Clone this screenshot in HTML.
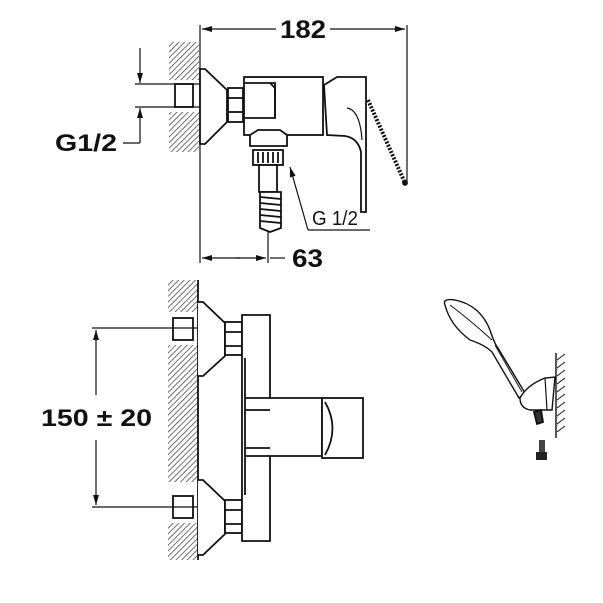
<!DOCTYPE html>
<html><head><style>
html,body{margin:0;padding:0;background:#fff;}
svg{display:block;}
text{font-family:"Liberation Sans",sans-serif;fill:#111;}
</style></head><body>
<svg width="603" height="603" viewBox="0 0 603 603" xmlns="http://www.w3.org/2000/svg">
<defs>
<pattern id="h" width="4" height="4" patternUnits="userSpaceOnUse" patternTransform="rotate(45)">
<line x1="0" y1="0" x2="0" y2="4" stroke="#333" stroke-width="1.4"/>
</pattern>
<marker id="a" viewBox="0 0 10 6" refX="10" refY="3" markerWidth="12" markerHeight="6" orient="auto" markerUnits="userSpaceOnUse">
<path d="M0,0 L10,3 L0,6 Z" fill="#111"/>
</marker>
</defs>
<g stroke="#111" fill="none" stroke-width="1.8">
<!-- TOP VIEW -->
<rect x="169" y="42" width="30" height="38" fill="url(#h)" stroke="none"/>
<rect x="169" y="112" width="30" height="40" fill="url(#h)" stroke="none"/>
<line x1="200" y1="25" x2="200" y2="263" stroke-width="1.2"/>
<line x1="407" y1="25" x2="407" y2="183" stroke-width="1.2"/>
<line x1="268" y1="225" x2="268" y2="263" stroke-width="1.2"/>
<line x1="276" y1="29" x2="202" y2="29" marker-end="url(#a)" stroke-width="1.2"/>
<line x1="330" y1="29" x2="405" y2="29" marker-end="url(#a)" stroke-width="1.2"/>
<line x1="240" y1="258" x2="202" y2="258" marker-end="url(#a)" stroke-width="1.2"/>
<line x1="236" y1="258" x2="266" y2="258" marker-end="url(#a)" stroke-width="1.2"/>
<line x1="270" y1="258" x2="285" y2="258" stroke-width="1.2"/>
<!-- G1/2 dim -->
<line x1="135" y1="84" x2="200" y2="84" stroke-width="1.2"/>
<line x1="135" y1="107" x2="200" y2="107" stroke-width="1.2"/>
<line x1="140" y1="48" x2="140" y2="83" marker-end="url(#a)" stroke-width="1.2"/>
<line x1="140" y1="143" x2="140" y2="108" marker-end="url(#a)" stroke-width="1.2"/>
<line x1="123" y1="143" x2="140" y2="143" stroke-width="1.2"/>
<rect x="175" y="84" width="18" height="23"/>
<path d="M200,69 L205,69 L227,90 L227,122 L205,144 L200,144 Z" fill="#fff"/>
<rect x="228" y="88" width="15" height="34" fill="#fff"/>
<line x1="228" y1="98" x2="243" y2="98"/><line x1="228" y1="112" x2="243" y2="112"/>
<rect x="244" y="77" width="79" height="58" fill="#fff"/>
<path d="M245,83 L275,83 L275,118 L245,118"/>
<path d="M270,83 L275,88 L275,118"/>
<!-- lever -->
<path d="M324,85 L337,77 L366,77 L366,212 L361,212 L361,152 Q358,138 345,136 L327,135 Z" fill="#fff"/>
<path d="M347,108 Q360,110 362,140" stroke-width="1.2"/>
<line x1="368" y1="100" x2="405" y2="183" stroke-width="4" stroke-dasharray="2 1.5"/>
<circle cx="405" cy="183" r="2" fill="#111"/>
<!-- outlet -->
<path d="M250,135 L258,130 L280,130 L287,135 L287,146 L250,146 Z" fill="#fff"/>
<rect x="253" y="150" width="30" height="15" fill="#fff"/>
<line x1="258" y1="152" x2="258" y2="163"/><line x1="263" y1="152" x2="263" y2="163"/><line x1="268" y1="152" x2="268" y2="163"/><line x1="273" y1="152" x2="273" y2="163"/><line x1="278" y1="152" x2="278" y2="163"/>
<rect x="259" y="165" width="18" height="27" fill="#fff"/>
<path d="M260,192 L281,192 L281,228 L270,232 L260,228 Z" fill="#fff"/>
<path d="M260,197 L281,199 M260,203 L281,205 M260,209 L281,211 M260,215 L281,217 M260,221 L281,223" stroke-width="1.8"/>
<line x1="308" y1="230" x2="290" y2="167" marker-end="url(#a)" stroke-width="1.2"/>
<line x1="308" y1="230" x2="370" y2="230" stroke-width="1.2"/>
<!-- BOTTOM VIEW -->
<rect x="168" y="280" width="30" height="32" fill="url(#h)" stroke="none"/>
<rect x="168" y="345" width="30" height="137" fill="url(#h)" stroke="none"/>
<rect x="168" y="523" width="30" height="37" fill="url(#h)" stroke="none"/>
<line x1="198" y1="280" x2="198" y2="560"/>
<rect x="173" y="318" width="20" height="22"/>
<rect x="173" y="496" width="20" height="22"/>
<line x1="92" y1="328" x2="197" y2="328" stroke-width="1.2"/>
<line x1="92" y1="507" x2="197" y2="507" stroke-width="1.2"/>
<line x1="96" y1="395" x2="96" y2="330" marker-end="url(#a)" stroke-width="1.2"/>
<line x1="96" y1="440" x2="96" y2="505" marker-end="url(#a)" stroke-width="1.2"/>
<path d="M198,302 L203,302 L225,323 L225,356 L203,376 L198,376" fill="#fff"/>
<path d="M198,480 L203,480 L225,501 L225,534 L203,555 L198,555" fill="#fff"/>
<rect x="225" y="322" width="17" height="33" fill="#fff"/>
<line x1="225" y1="332" x2="242" y2="332"/><line x1="225" y1="346" x2="242" y2="346"/>
<rect x="225" y="500" width="17" height="33" fill="#fff"/>
<line x1="225" y1="510" x2="242" y2="510"/><line x1="225" y1="524" x2="242" y2="524"/>
<path d="M242,315 L270,315 L270,398 L322,398 L322,456 L270,456 L270,541 L242,541 Z" fill="#fff"/>
<line x1="245" y1="358" x2="245" y2="495"/>
<line x1="245" y1="398" x2="270" y2="398"/><line x1="245" y1="410" x2="270" y2="410"/>
<line x1="245" y1="448" x2="270" y2="448"/><line x1="245" y1="456" x2="270" y2="456"/>
<rect x="322" y="398" width="41" height="60" fill="#fff"/>
<path d="M325,402 Q340,428 325,455"/>
<!-- hand shower -->
<path d="M445,305 Q442,298 455,300 Q480,305 490,330 Q495,345 498,348 L525,393 L519,398 L492,352 Q485,345 470,340 Q450,325 445,305 Z" fill="#fff" stroke-width="1.4"/>
<path d="M450,305 Q470,320 492,340" stroke-width="1"/>
<path d="M495,345 L522,392" stroke-width="1"/>
<path d="M520,398 Q527,385 545,378 L555,377 L552,410 L530,410 Q520,408 520,398 Z" fill="#fff" stroke-width="1.4"/>
<line x1="545" y1="378" x2="547" y2="410" stroke-width="1.2"/>
<line x1="556" y1="353" x2="556" y2="438" stroke-width="1.4"/>
<path d="M557,360 L565,354 M557,368 L565,362 M557,376 L565,370 M557,384 L565,378 M557,392 L565,386 M557,400 L565,394 M557,408 L565,402 M557,416 L565,410 M557,424 L565,418 M557,432 L565,426" stroke-width="1"/>
<path d="M534,412 L541,410 L543,422 L537,424 Z" fill="#333"/>
<rect x="539" y="440" width="6" height="14" fill="#444" stroke="none"/>
<rect x="536" y="452" width="11" height="8" fill="#222" stroke="none"/>
</g>
<text x="280" y="38" font-size="25" font-weight="bold" textLength="46" lengthAdjust="spacingAndGlyphs">182</text>
<text x="292" y="267" font-size="25" font-weight="bold" textLength="31" lengthAdjust="spacingAndGlyphs">63</text>
<text x="55" y="151" font-size="24" font-weight="bold" textLength="62" lengthAdjust="spacingAndGlyphs">G1/2</text>
<text x="312" y="225" font-size="20" textLength="46" lengthAdjust="spacingAndGlyphs">G 1/2</text>
<text x="41" y="426" font-size="24" font-weight="bold" textLength="111" lengthAdjust="spacingAndGlyphs">150 ± 20</text>
</svg>
</body></html>
